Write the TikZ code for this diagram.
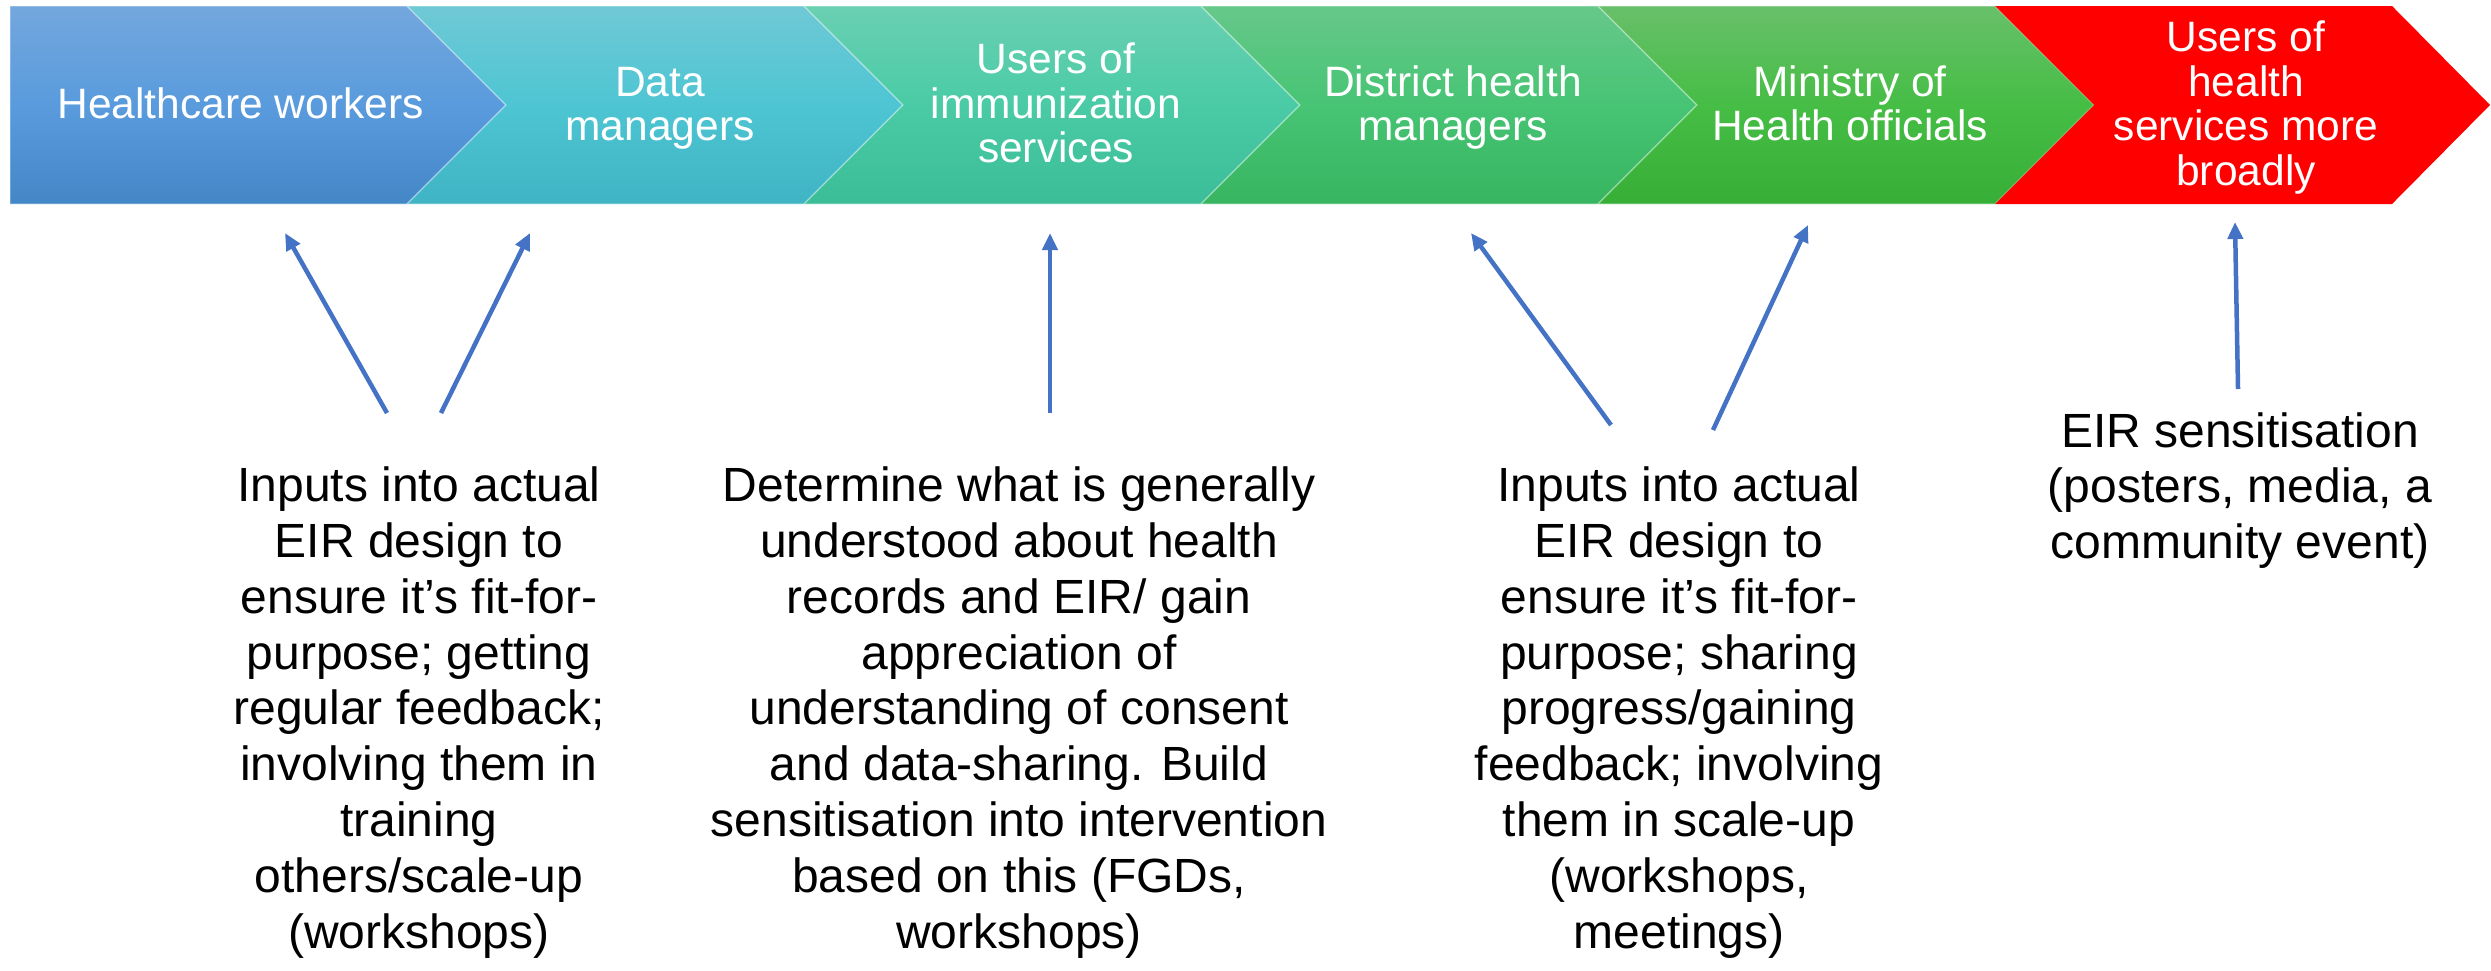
\documentclass[tikz,border=0pt]{standalone}
\usepackage{fontspec}
\setmainfont{Liberation Sans}
\usetikzlibrary{arrows.meta}

% stage colours (top / middle / bottom of each gradient)
\definecolor{c1top}{HTML}{73A7DD}
\definecolor{c1mid}{HTML}{599BDD}
\definecolor{c1bot}{HTML}{4487C7}
\definecolor{c2top}{HTML}{6FC9D5}
\definecolor{c2mid}{HTML}{4EC5D3}
\definecolor{c2bot}{HTML}{3FB4C4}
\definecolor{c3top}{HTML}{6AD0B2}
\definecolor{c3mid}{HTML}{4ACBA6}
\definecolor{c3bot}{HTML}{3BBD97}
\definecolor{c4top}{HTML}{66C88A}
\definecolor{c4mid}{HTML}{47C474}
\definecolor{c4bot}{HTML}{37B560}
\definecolor{c5top}{HTML}{68C06A}
\definecolor{c5mid}{HTML}{46BD45}
\definecolor{c5bot}{HTML}{37AE35}
\definecolor{stagered}{HTML}{FF0000}
\definecolor{linkblue}{HTML}{4472C4}

% multi-line labels are placed by the baseline of their last line
\tikzset{
  stagebox/.style={draw=white, draw opacity=0.35, line width=1.2pt},
  stagelabel/.style={text=white, align=center, anchor=base, inner sep=0pt,
    font=\fontsize{42.5}{44.5}\selectfont},
  notetext/.style={text=black, align=center, anchor=base, inner sep=0pt,
    font=\fontsize{48}{55.8}\selectfont},
  link/.style={draw=linkblue, line width=4.5pt,
    -{Triangle[length=17pt,width=15pt]}},
}

\begin{document}
\begin{tikzpicture}[x=1pt, y=-1pt]
  \useasboundingbox (0,0) rectangle (2491,970);

  % chevron band
  \shade[stagebox, top color=c1top, bottom color=c1bot, middle color=c1mid]
    (10,6) -- (407,6) -- (506,105) -- (407,204) -- (10,204) -- cycle;
  \shade[stagebox, top color=c2top, bottom color=c2bot, middle color=c2mid]
    (407,6) -- (804,6) -- (903,105) -- (804,204) -- (407,204) -- (506,105) -- cycle;
  \shade[stagebox, top color=c3top, bottom color=c3bot, middle color=c3mid]
    (804,6) -- (1201,6) -- (1300,105) -- (1201,204) -- (804,204) -- (903,105) -- cycle;
  \shade[stagebox, top color=c4top, bottom color=c4bot, middle color=c4mid]
    (1201,6) -- (1598,6) -- (1697,105) -- (1598,204) -- (1201,204) -- (1300,105) -- cycle;
  \shade[stagebox, top color=c5top, bottom color=c5bot, middle color=c5mid]
    (1598,6) -- (1995,6) -- (2094,105) -- (1995,204) -- (1598,204) -- (1697,105) -- cycle;
  \fill[stagered]
    (1995,6) -- (2392,6) -- (2490,105) -- (2392,204) -- (1995,204) -- (2094,105) -- cycle;

  % stage labels
  \node[stagelabel] (s1) at (240.5,118) {Healthcare workers};
  \node[stagelabel] (s2) at (660,140.5) {Data\\managers};
  \node[stagelabel] (s3) at (1056,162.5) {Users of\\immunization\\services};
  \node[stagelabel] (s4) at (1453,140.5) {District health\\managers};
  \node[stagelabel] (s5) at (1850,140.5) {Ministry of\\Health officials};
  \node[stagelabel] (s6) at (2246,185) {Users of\\health\\services more\\broadly};

  % engagement notes
  \node[notetext] (n1) at (419,948.1) {Inputs into actual\\EIR design to\\ensure it’s fit-for-\\purpose; getting\\regular feedback;\\involving them in\\training\\others/scale-up\\(workshops)};
  \node[notetext] (n2) at (1019,948.1) {Determine what is generally\\understood about health\\records and EIR/ gain\\appreciation of\\understanding of consent\\and data-sharing. Build\\sensitisation into intervention\\based on this (FGDs,\\workshops)};
  \node[notetext] (n3) at (1679,948.1) {Inputs into actual\\EIR design to\\ensure it’s fit-for-\\purpose; sharing\\progress/gaining\\feedback; involving\\them in scale-up\\(workshops,\\meetings)};
  \node[notetext] (n4) at (2240,558.6) {EIR sensitisation\\(posters, media, a\\community event)};

  % arrow ends
  \coordinate (a1) at (387,413);  \coordinate (b1) at (285,233);
  \coordinate (a2) at (441,413);  \coordinate (b2) at (530,233);
  \coordinate (a3) at (1050,413); \coordinate (b3) at (1050,233);
  \coordinate (a4) at (1611,425); \coordinate (b4) at (1471,233);
  \coordinate (a5) at (1713,430); \coordinate (b5) at (1808,225);
  \coordinate (a6) at (2238,389); \coordinate (b6) at (2235,222);

  \draw[link] (a1) -- (b1);
  \draw[link] (a2) -- (b2);
  \draw[link] (a3) -- (b3);
  \draw[link] (a4) -- (b4);
  \draw[link] (a5) -- (b5);
  \draw[link] (a6) -- (b6);
\end{tikzpicture}
\end{document}
